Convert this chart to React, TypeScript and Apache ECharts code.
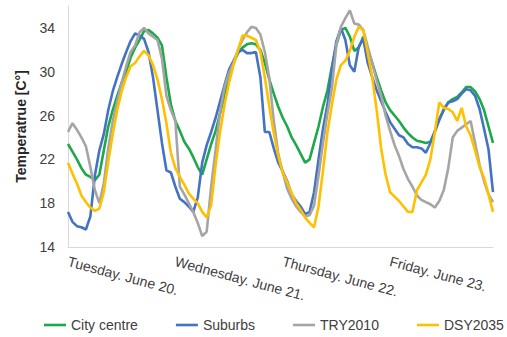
import React, { useEffect, useRef } from "react";
import * as echarts from "echarts";

const dayLabels = ["Tuesday. June 20.", "Wednesday. June 21.", "Thursday. June 22.", "Friday. June 23."];
const hoursPerDay = 24;

const yTicks = [14, 18, 22, 26, 30, 34];

const cityCentre = [
  23.4, 22.7, 22.0, 21.2, 20.6, 20.4, 20.1, 20.6, 22.8, 25.0, 26.5, 27.8, 29.0, 30.0, 31.3, 32.2, 32.9, 33.7, 33.8, 33.5, 33.1, 32.4, 29.5, 27.0,
  25.5, 24.6, 23.6, 23.0, 22.2, 21.3, 20.6, 22.0, 23.4, 24.6, 26.2, 27.8, 29.5, 30.8, 31.7, 32.2, 32.5, 32.6, 32.5, 32.0, 30.8, 29.3, 28.0, 26.8,
  25.8, 25.0, 24.0, 23.3, 22.5, 21.7, 22.0, 23.5, 25.0, 26.8, 28.3, 30.5, 32.5, 33.8, 34.0, 33.2, 31.9, 32.2, 33.2, 32.0, 30.8, 29.5, 28.3, 27.2,
  26.5, 26.0, 25.5, 24.9, 24.4, 24.0, 23.7, 23.6, 23.5, 23.6, 24.5, 25.7, 26.5, 27.2, 27.5, 27.7, 28.1, 28.6, 28.6, 28.2, 27.5, 26.5, 25.0, 23.5,
];

const suburbs = [
  17.2, 16.3, 15.9, 15.8, 15.6, 16.8, 20.5, 22.8, 24.3, 26.5, 28.2, 29.5, 30.7, 31.8, 32.8, 33.5, 33.3, 33.0, 31.8, 29.5, 26.5, 23.5, 21.0, 20.8,
  19.5, 18.4, 18.1, 17.7, 17.2, 18.5, 21.7, 23.3, 24.5, 25.8, 27.3, 28.8, 30.2, 31.0, 31.8, 32.0, 31.7, 31.7, 31.8, 29.5, 24.5, 24.5, 23.0, 21.7,
  20.9, 20.0, 18.8, 18.2, 17.7, 17.0, 17.2, 19.0, 22.0, 24.8, 27.0, 30.2, 32.8, 34.0, 32.9, 30.6, 30.0, 32.3, 33.0, 30.8, 29.5, 28.3, 27.3, 26.3,
  25.4, 24.8, 24.2, 24.0, 23.4, 23.1, 23.1, 23.0, 22.6, 23.5, 24.6, 25.6, 26.6, 27.2, 27.3, 27.5, 28.0, 28.4, 28.3, 27.8, 26.6, 24.8, 22.9, 19.0,
];

const try2010 = [
  24.5, 25.3, 24.7, 24.0, 23.2, 21.3, 19.2, 18.0, 19.8, 23.0, 25.5, 27.3, 29.0, 30.5, 31.8, 32.4, 33.6, 34.0, 33.5, 33.2, 32.9, 31.2, 27.8, 26.5,
  25.5, 19.5, 18.8, 18.0, 17.2, 16.2, 15.0, 15.4, 19.5, 22.9, 26.3, 28.6, 29.9, 30.8, 32.0, 32.9, 33.6, 34.1, 34.0, 33.4, 31.8, 29.4, 25.5, 22.5,
  20.8, 19.3, 18.4, 17.7, 17.2, 16.8, 16.9, 17.8, 20.5, 23.5, 26.2, 28.5, 32.5, 34.1, 34.9, 35.6, 34.4, 34.3, 33.8, 32.3, 30.8, 29.2, 27.8, 26.0,
  24.6, 23.3, 22.3, 21.1, 20.2, 19.5, 18.7, 18.3, 18.1, 17.9, 17.6, 18.2, 19.2, 21.2, 24.0, 24.6, 24.9, 25.2, 25.5, 23.5, 21.5, 20.0, 18.8, 18.1,
];

const dsy2035 = [
  21.7, 20.7, 19.8, 18.7, 18.1, 17.6, 17.3, 17.5, 19.0, 21.8, 24.3, 26.5, 28.2, 29.5, 30.5, 30.8, 31.4, 31.9, 31.5, 30.6, 29.3, 27.5, 25.3, 22.6,
  21.2, 20.4, 19.7, 18.9, 18.4, 18.0, 17.2, 16.7, 17.8, 21.5, 24.5, 27.0, 29.0, 30.6, 32.0, 33.3, 33.3, 33.1, 32.9, 31.8, 29.5, 26.8, 24.4, 22.3,
  20.8, 19.9, 18.9, 18.0, 17.4, 16.7, 16.2, 15.8, 17.7, 21.0, 24.5, 27.0, 29.3, 30.6, 31.0, 31.9, 33.2, 34.1, 33.8, 31.7, 29.5, 26.5, 23.0, 20.6,
  19.0, 18.6, 18.2, 17.7, 17.2, 17.2, 19.2, 19.9, 20.6, 22.0, 24.5, 27.2, 26.7, 26.6, 26.3, 25.5, 26.7, 25.0, 24.2, 22.8, 21.3, 20.3, 18.8, 17.2,
];

const seriesNames = ["City centre", "Suburbs", "TRY2010", "DSY2035"];
const seriesColors = ["#1DA84A", "#4472C4", "#A5A5A5", "#FFC000"];

const categories: string[] = [];
dayLabels.forEach((d) => {
  for (let h = 0; h < hoursPerDay; h++) categories.push(h === 0 ? d : `${d} ${h}:00`);
});

export default function App() {
  const ref = useRef<HTMLDivElement>(null);
  useEffect(() => {
    if (!ref.current) return;
    const chart = echarts.init(ref.current, undefined, { renderer: "svg" });
    const font = "'Liberation Sans', Arial, sans-serif";
    const data = [cityCentre, suburbs, try2010, dsy2035];
    chart.setOption({
      animation: false,
      textStyle: { fontFamily: font },
      grid: { left: 68, right: 14, top: 6, bottom: 90 },
      legend: {
        left: 44,
        top: 318,
        width: 462,
        padding: 0,
        itemWidth: 22,
        itemHeight: 14,
        itemGap: 38,
        textStyle: { fontSize: 14, color: "#404040", fontFamily: font },
        data: seriesNames.map((n) => ({ name: n, icon: "path://M0,6 L22,6 L22,8.6 L0,8.6 Z" })),
      },
      xAxis: {
        type: "category",
        data: categories,
        boundaryGap: false,
        axisLine: { lineStyle: { color: "#D9D9D9", width: 1 } },
        axisTick: { show: false },
        splitLine: { show: false },
        axisLabel: {
          interval: (i: number) => i % hoursPerDay === 0,
          rotate: -15,
          margin: 14,
          fontSize: 14,
          color: "#404040",
          fontFamily: font,
          formatter: (v: string) => (dayLabels.includes(v) ? v : ""),
        },
      },
      yAxis: {
        type: "value",
        min: 14,
        max: 36,
        interval: 2,
        name: "Temperatrue [C°]",
        nameLocation: "middle",
        nameGap: 40,
        nameTextStyle: { fontSize: 14, fontWeight: "bold", color: "#262626", fontFamily: font },
        axisLine: { show: true, lineStyle: { color: "#D9D9D9", width: 1 } },
        axisTick: { show: false },
        splitLine: { show: false },
        axisLabel: {
          fontSize: 14,
          color: "#404040",
          margin: 13,
          fontFamily: font,
          formatter: (v: number) => (yTicks.includes(v) ? String(v) : ""),
        },
      },
      series: seriesNames.map((n, k) => ({
        name: n,
        type: "line",
        data: data[k],
        showSymbol: false,
        symbol: "none",
        lineStyle: { color: seriesColors[k], width: 2.6 },
        itemStyle: { color: seriesColors[k] },
      })),
    });
    return () => chart.dispose();
  }, []);
  return <div ref={ref} style={{ width: 507, height: 337, position: "absolute", left: 0, top: 0 }} />;
}
